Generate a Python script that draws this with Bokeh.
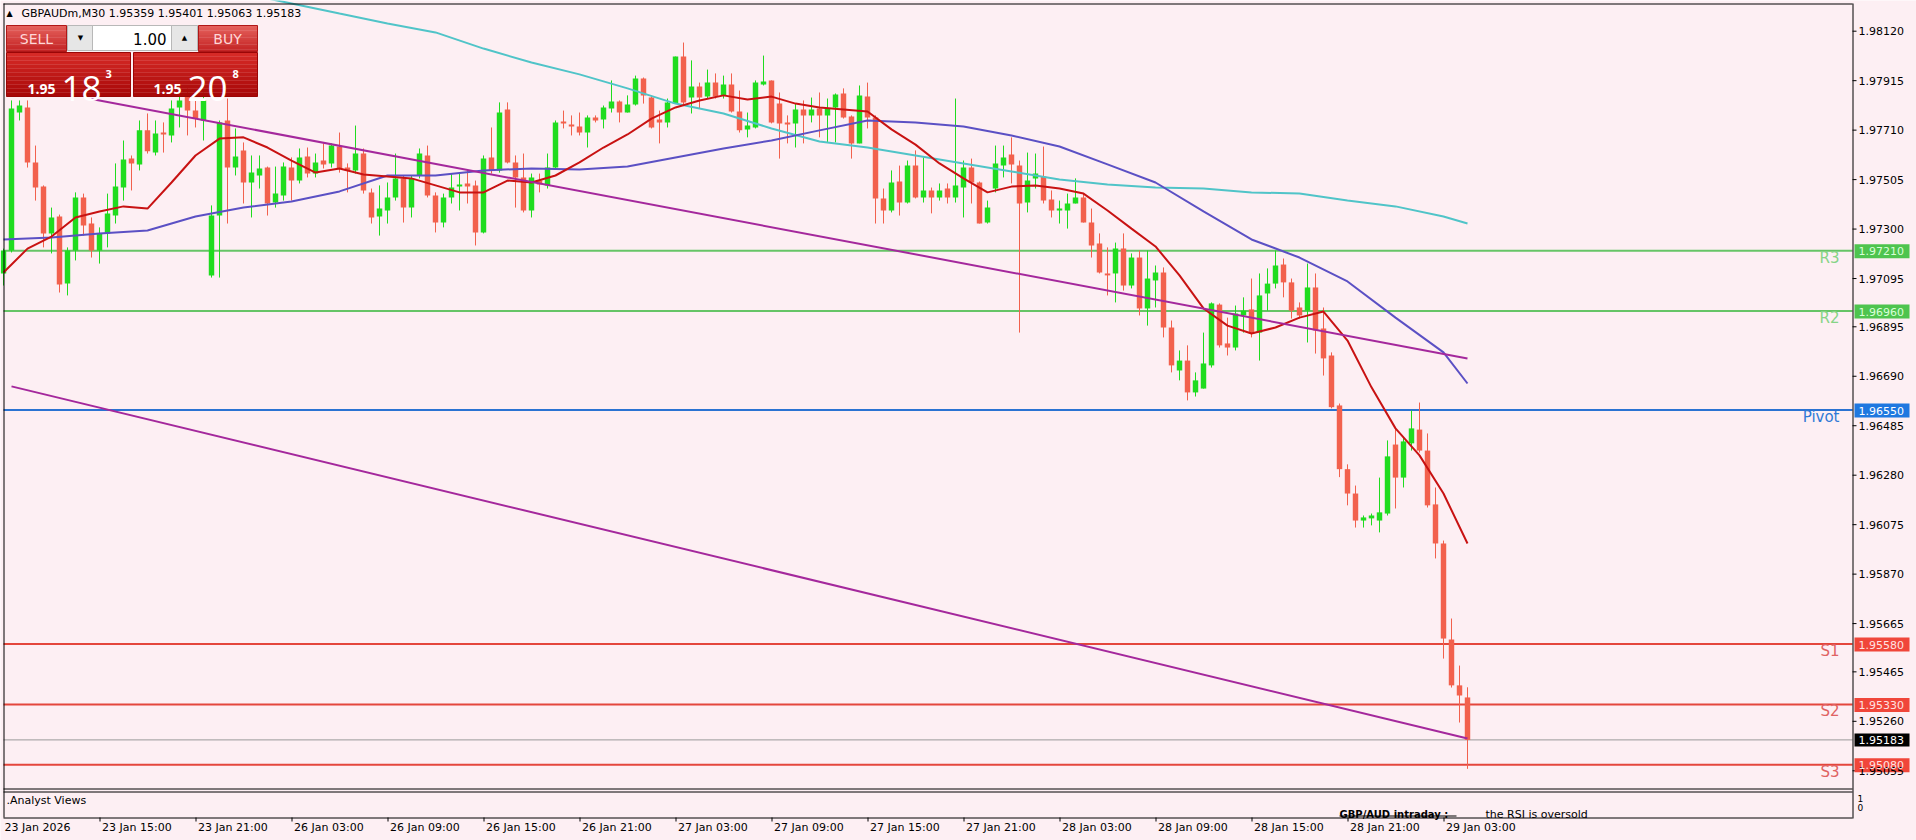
from bokeh.plotting import figure
from bokeh.models import Range1d, Label
from bokeh.embed import file_html
from bokeh.resources import INLINE

# ---------------- data ----------------
symbol_title = "GBPAUDm,M30"
header_ohlc = ["1.95359", "1.95401", "1.95063", "1.95183"]

opens = [
    1.97116, 1.97211, 1.97783, 1.97804, 1.97576, 1.97476, 1.97282, 1.97352, 1.97074, 1.97211,
    1.97431, 1.97323, 1.97211, 1.97282, 1.97356, 1.97472, 1.97592, 1.97568, 1.97709, 1.97617,
    1.97700, 1.97688, 1.97804, 1.97854, 1.97791, 1.97750, 1.97108, 1.97356, 1.97750, 1.97555,
    1.97626, 1.97493, 1.97522, 1.97555, 1.97410, 1.97439, 1.97555, 1.97501, 1.97601, 1.97530,
    1.97584, 1.97572, 1.97642, 1.97555, 1.97543, 1.97613, 1.97452, 1.97352, 1.97377, 1.97431,
    1.97510, 1.97389, 1.97522, 1.97605, 1.97439, 1.97327, 1.97431, 1.97476, 1.97489, 1.97481,
    1.97286, 1.97597, 1.97543, 1.97796, 1.97576, 1.97514, 1.97377, 1.97501, 1.97481, 1.97555,
    1.97746, 1.97733, 1.97725, 1.97700, 1.97762, 1.97754, 1.97800, 1.97829, 1.97783, 1.97816,
    1.97924, 1.97845, 1.97754, 1.97742, 1.97820, 1.98015, 1.97845, 1.97891, 1.97849, 1.97907,
    1.97854, 1.97899, 1.97787, 1.97713, 1.97721, 1.97899, 1.97916, 1.97820, 1.97742, 1.97738,
    1.97796, 1.97771, 1.97800, 1.97771, 1.97804, 1.97862, 1.97767, 1.97655, 1.97849, 1.97762,
    1.97427, 1.97377, 1.97497, 1.97410, 1.97563, 1.97431, 1.97460, 1.97431, 1.97468, 1.97431,
    1.97472, 1.97555, 1.97493, 1.97327, 1.97468, 1.97563, 1.97609, 1.97563, 1.97410, 1.97510,
    1.97518, 1.97423, 1.97377, 1.97377, 1.97406, 1.97431, 1.97327, 1.97240, 1.97116, 1.97116,
    1.97219, 1.97066, 1.97182, 1.96971, 1.97087, 1.97120, 1.96892, 1.96714, 1.96755, 1.96623,
    1.96639, 1.96735, 1.96987, 1.96826, 1.96809, 1.96942, 1.96967, 1.96871, 1.97033, 1.97074,
    1.97153, 1.97079, 1.96975, 1.96962, 1.97058, 1.96888, 1.96776, 1.96569, 1.96305, 1.96204,
    1.96092, 1.96101, 1.96092, 1.96121, 1.96407, 1.96270, 1.96412, 1.96469, 1.96382, 1.96159,
    1.95997, 1.95599, 1.95409, 1.95359,
]
highs = [
    1.97219, 1.97833, 1.97833, 1.97833, 1.97646, 1.97481, 1.97389, 1.97360, 1.97224, 1.97452,
    1.97447, 1.97348, 1.97307, 1.97447, 1.97572, 1.97667, 1.97605, 1.97750, 1.97779, 1.97750,
    1.97742, 1.97833, 1.97862, 1.97883, 1.97833, 1.97866, 1.97398, 1.97750, 1.97841, 1.97717,
    1.97659, 1.97605, 1.97605, 1.97559, 1.97559, 1.97576, 1.97597, 1.97634, 1.97638, 1.97613,
    1.97655, 1.97655, 1.97700, 1.97572, 1.97729, 1.97634, 1.97468, 1.97481, 1.97493, 1.97613,
    1.97522, 1.97522, 1.97634, 1.97646, 1.97452, 1.97447, 1.97530, 1.97534, 1.97543, 1.97501,
    1.97605, 1.97721, 1.97825, 1.97825, 1.97605, 1.97613, 1.97530, 1.97530, 1.97613, 1.97750,
    1.97791, 1.97771, 1.97783, 1.97771, 1.97771, 1.97812, 1.97916, 1.97833, 1.97854, 1.97936,
    1.97928, 1.97854, 1.97791, 1.97841, 1.98015, 1.98073, 1.97999, 1.97907, 1.97961, 1.97945,
    1.97936, 1.97945, 1.97874, 1.97783, 1.97916, 1.98019, 1.97916, 1.97866, 1.97771, 1.97820,
    1.97833, 1.97845, 1.97866, 1.97841, 1.97862, 1.97883, 1.97771, 1.97895, 1.97907, 1.97771,
    1.97468, 1.97543, 1.97563, 1.97584, 1.97626, 1.97597, 1.97472, 1.97489, 1.97489, 1.97841,
    1.97584, 1.97592, 1.97497, 1.97418, 1.97646, 1.97646, 1.97680, 1.97584, 1.97617, 1.97613,
    1.97642, 1.97460, 1.97418, 1.97447, 1.97510, 1.97447, 1.97385, 1.97282, 1.97224, 1.97244,
    1.97282, 1.97199, 1.97211, 1.97211, 1.97149, 1.97141, 1.96921, 1.96797, 1.96818, 1.96706,
    1.96871, 1.96996, 1.96992, 1.96933, 1.96983, 1.97017, 1.97095, 1.97116, 1.97137, 1.97211,
    1.97178, 1.97095, 1.96996, 1.97157, 1.97116, 1.96975, 1.96789, 1.96577, 1.96325, 1.96237,
    1.96113, 1.96121, 1.96270, 1.96424, 1.96474, 1.96436, 1.96548, 1.96581, 1.96453, 1.96229,
    1.96009, 1.95686, 1.95491, 1.95401,
]
lows = [
    1.97066, 1.97203, 1.97750, 1.97555, 1.97418, 1.97224, 1.97199, 1.97037, 1.97025, 1.97170,
    1.97273, 1.97182, 1.97157, 1.97224, 1.97323, 1.97418, 1.97460, 1.97543, 1.97613, 1.97605,
    1.97617, 1.97659, 1.97721, 1.97688, 1.97721, 1.97667, 1.97099, 1.97099, 1.97323, 1.97522,
    1.97406, 1.97348, 1.97468, 1.97356, 1.97389, 1.97418, 1.97418, 1.97489, 1.97514, 1.97514,
    1.97551, 1.97555, 1.97534, 1.97452, 1.97530, 1.97447, 1.97323, 1.97273, 1.97323, 1.97418,
    1.97327, 1.97348, 1.97510, 1.97431, 1.97286, 1.97307, 1.97406, 1.97377, 1.97406, 1.97232,
    1.97282, 1.97530, 1.97534, 1.97572, 1.97389, 1.97369, 1.97348, 1.97452, 1.97468, 1.97551,
    1.97717, 1.97688, 1.97688, 1.97638, 1.97742, 1.97717, 1.97783, 1.97742, 1.97783, 1.97812,
    1.97820, 1.97717, 1.97655, 1.97721, 1.97820, 1.97812, 1.97779, 1.97800, 1.97841, 1.97841,
    1.97841, 1.97783, 1.97700, 1.97680, 1.97717, 1.97895, 1.97738, 1.97592, 1.97655, 1.97638,
    1.97655, 1.97742, 1.97680, 1.97659, 1.97659, 1.97758, 1.97592, 1.97655, 1.97717, 1.97323,
    1.97323, 1.97369, 1.97356, 1.97406, 1.97427, 1.97410, 1.97365, 1.97418, 1.97406, 1.97410,
    1.97348, 1.97406, 1.97323, 1.97323, 1.97452, 1.97514, 1.97489, 1.96871, 1.97369, 1.97468,
    1.97406, 1.97348, 1.97323, 1.97302, 1.97406, 1.97327, 1.97182, 1.97116, 1.97025, 1.96996,
    1.97045, 1.97054, 1.96942, 1.96900, 1.96975, 1.96851, 1.96706, 1.96673, 1.96590, 1.96606,
    1.96639, 1.96726, 1.96809, 1.96776, 1.96797, 1.96871, 1.96851, 1.96755, 1.96962, 1.97054,
    1.97017, 1.96929, 1.96929, 1.96830, 1.96784, 1.96693, 1.96557, 1.96272, 1.96155, 1.96063,
    1.96063, 1.96072, 1.96043, 1.96113, 1.96142, 1.96229, 1.96382, 1.96374, 1.96146, 1.95935,
    1.95520, 1.95400, 1.95255, 1.95063,
]
closes = [
    1.97211, 1.97800, 1.97812, 1.97576, 1.97472, 1.97282, 1.97348, 1.97070, 1.97211, 1.97431,
    1.97315, 1.97211, 1.97282, 1.97365, 1.97476, 1.97588, 1.97572, 1.97709, 1.97622, 1.97696,
    1.97692, 1.97800, 1.97833, 1.97791, 1.97758, 1.97833, 1.97356, 1.97742, 1.97555, 1.97601,
    1.97493, 1.97534, 1.97551, 1.97406, 1.97447, 1.97559, 1.97501, 1.97597, 1.97530, 1.97576,
    1.97568, 1.97646, 1.97551, 1.97543, 1.97613, 1.97460, 1.97348, 1.97385, 1.97431, 1.97510,
    1.97389, 1.97510, 1.97613, 1.97439, 1.97327, 1.97431, 1.97472, 1.97485, 1.97476, 1.97286,
    1.97592, 1.97543, 1.97783, 1.97576, 1.97514, 1.97377, 1.97514, 1.97485, 1.97555, 1.97742,
    1.97738, 1.97725, 1.97700, 1.97762, 1.97750, 1.97804, 1.97829, 1.97783, 1.97816, 1.97924,
    1.97854, 1.97721, 1.97742, 1.97825, 1.98015, 1.97825, 1.97891, 1.97845, 1.97907, 1.97849,
    1.97899, 1.97787, 1.97709, 1.97729, 1.97907, 1.97912, 1.97742, 1.97738, 1.97733, 1.97796,
    1.97771, 1.97796, 1.97771, 1.97800, 1.97858, 1.97762, 1.97655, 1.97854, 1.97762, 1.97427,
    1.97377, 1.97493, 1.97410, 1.97563, 1.97431, 1.97460, 1.97431, 1.97460, 1.97431, 1.97481,
    1.97555, 1.97493, 1.97323, 1.97389, 1.97572, 1.97597, 1.97568, 1.97406, 1.97501, 1.97530,
    1.97418, 1.97377, 1.97385, 1.97406, 1.97431, 1.97327, 1.97232, 1.97120, 1.97108, 1.97219,
    1.97066, 1.97182, 1.96971, 1.97095, 1.97120, 1.96892, 1.96735, 1.96755, 1.96623, 1.96673,
    1.96743, 1.96992, 1.96818, 1.96809, 1.96950, 1.96962, 1.96867, 1.97025, 1.97074, 1.97149,
    1.97079, 1.96962, 1.96942, 1.97058, 1.96880, 1.96764, 1.96562, 1.96305, 1.96204, 1.96092,
    1.96105, 1.96113, 1.96126, 1.96358, 1.96270, 1.96420, 1.96474, 1.96382, 1.96155, 1.95997,
    1.95603, 1.95409, 1.95367, 1.95183,
]

# moving averages (bar index, price)
red_ma_bars = list(range(0, 184, 3))
red_ma_vals = [
    1.97120, 1.97219, 1.97269, 1.97348, 1.97373, 1.97394, 1.97385, 1.97493, 1.97605, 1.97675,
    1.97680, 1.97638, 1.97584, 1.97534, 1.97551, 1.97526, 1.97518, 1.97510, 1.97481, 1.97452,
    1.97452, 1.97501, 1.97493, 1.97522, 1.97576, 1.97638, 1.97692, 1.97758, 1.97804, 1.97833,
    1.97854, 1.97837, 1.97849, 1.97820, 1.97804, 1.97796, 1.97787, 1.97713, 1.97650, 1.97572,
    1.97510, 1.97452, 1.97476, 1.97481, 1.97468, 1.97447, 1.97377, 1.97302, 1.97228, 1.97108,
    1.96971, 1.96900, 1.96867, 1.96892, 1.96933, 1.96958, 1.96838, 1.96644, 1.96474, 1.96362,
    1.96204, 1.95997,
]
blue_ma_bars = list(range(0, 181, 6)) + [183]
blue_ma_vals = [
    1.97257, 1.97265, 1.97282, 1.97294, 1.97352, 1.97389, 1.97414, 1.97456, 1.97522, 1.97522,
    1.97543, 1.97551, 1.97547, 1.97559, 1.97597, 1.97634, 1.97667, 1.97709, 1.97750, 1.97742,
    1.97725, 1.97688, 1.97642, 1.97568, 1.97493, 1.97373, 1.97257, 1.97182, 1.97083, 1.96933,
    1.96789, 1.96660,
]
cyan_ma_bars = list(range(30, 181, 6)) + [183]
cyan_ma_vals = [
    1.98276, 1.98235, 1.98193, 1.98152, 1.98115, 1.98048, 1.97990, 1.97941, 1.97883, 1.97820,
    1.97779, 1.97717, 1.97663, 1.97638, 1.97605, 1.97572, 1.97539, 1.97505, 1.97485, 1.97472,
    1.97468, 1.97452, 1.97447, 1.97418, 1.97394, 1.97352, 1.97323,
]

# trend lines (end points)
upper_trend_bars = [11, 183]
upper_trend_vals = [1.97839, 1.96764]
lower_trend_bars = [1, 183]
lower_trend_vals = [1.96648, 1.95189]

# pivot levels
level_names = ["R3", "R2", "Pivot", "S1", "S2", "S3"]
level_values = [1.97210, 1.96960, 1.96550, 1.95580, 1.95330, 1.95080]
bid_price = 1.95183

# axes
price_ticks = [1.98120, 1.97915, 1.97710, 1.97505, 1.97300, 1.97095, 1.96895, 1.96690,
               1.96485, 1.96280, 1.96075, 1.95870, 1.95665, 1.95465, 1.95260, 1.95055]
time_tick_bars = [12, 24, 36, 48, 60, 72, 84, 96, 108, 120, 132, 144, 156, 168, 180]
time_tick_labels = ["23 Jan 15:00", "23 Jan 21:00", "26 Jan 03:00", "26 Jan 09:00",
                    "26 Jan 15:00", "26 Jan 21:00", "27 Jan 03:00", "27 Jan 09:00",
                    "27 Jan 15:00", "27 Jan 21:00", "28 Jan 03:00", "28 Jan 09:00",
                    "28 Jan 15:00", "28 Jan 21:00", "29 Jan 03:00"]
first_time_label = "23 Jan 2026"

# one-click trading panel
sell_quote = ["1.95", "18", "3"]
buy_quote = ["1.95", "20", "8"]
lot_size = "1.00"
analyst_title = "GBP/AUD intraday :"
analyst_text = "the RSI is oversold"

# ---------------- styling / geometry ----------------
BG = "#fdeff3"
BULL = "#1fdc1f"
BEAR = "#f2614d"
LEVEL_COLORS = {"R3": "#66c466", "R2": "#66c466", "Pivot": "#2a73d2",
                "S1": "#e4463c", "S2": "#e4463c", "S3": "#e4463c"}
LEVEL_TEXT = {"R3": "#86d486", "R2": "#86d486", "Pivot": "#2f7ad6",
              "S1": "#e06262", "S2": "#e06262", "S3": "#e06262"}
LEVEL_BOX = {"R3": "#4ec44e", "R2": "#4ec44e", "Pivot": "#1f78e0",
             "S1": "#f0463a", "S2": "#f0463a", "S3": "#f0463a"}
LEVEL_BOX_TEXT = {"R3": "#d8ffd8", "R2": "#d8ffd8", "Pivot": "#ffffff",
                  "S1": "#ffe2e2", "S2": "#ffe2e2", "S3": "#ffe2e2"}

W, H = 1916, 840
PX_PER_UNIT = 24130.0
CHART_L, CHART_T, CHART_R, CHART_B = 3, 3, 1852, 817


def bx(px):
    """canvas pixel x -> bar index"""
    return (px - 3.0) / 8.0


def py(px):
    """canvas pixel y -> price"""
    return 1.98120 - (px - 30.7) / PX_PER_UNIT


def price_to_px(v):
    return 30.7 + (1.98120 - v) * PX_PER_UNIT


p = figure(width=W, height=H,
           x_range=Range1d(bx(0), bx(W)), y_range=Range1d(py(H), py(0)),
           output_backend="svg", toolbar_location=None, title_location=None,
           x_axis_location=None, y_axis_location=None,
           background_fill_color=BG, border_fill_color=BG, min_border=0)
p.outline_line_color = None
p.xgrid.visible = False
p.ygrid.visible = False

X_LEFT, X_RIGHT = bx(CHART_L), bx(CHART_R)

# ---- pivot level lines + bid line
for name, val in zip(level_names, level_values):
    p.segment(x0=X_LEFT, y0=val, x1=X_RIGHT, y1=val, line_color=LEVEL_COLORS[name], line_width=2)
p.segment(x0=X_LEFT, y0=bid_price, x1=X_RIGHT, y1=bid_price, line_color="#9a9a9a", line_width=1)

# ---- candles
MIN_BODY = 1.2 / PX_PER_UNIT
for bull in (True, False):
    xs, tops, bots, his, los = [], [], [], [], []
    for i, (o, h, l, c) in enumerate(zip(opens, highs, lows, closes)):
        if (c >= o) != bull:
            continue
        top, bot = max(o, c), min(o, c)
        if top - bot < MIN_BODY:
            mid = (top + bot) / 2
            top, bot = mid + MIN_BODY / 2, mid - MIN_BODY / 2
        xs.append(i); tops.append(top); bots.append(bot); his.append(h); los.append(l)
    col = BULL if bull else BEAR
    p.segment(x0=xs, y0=los, x1=xs, y1=his, line_color=col, line_width=1)
    p.vbar(x=xs, top=tops, bottom=bots, width=0.68, fill_color=col, line_color=None)

# ---- moving averages and trend lines
p.line(cyan_ma_bars, cyan_ma_vals, line_color="#50c4c8", line_width=2)
p.line(blue_ma_bars, blue_ma_vals, line_color="#5b50c4", line_width=2)
p.line(red_ma_bars, red_ma_vals, line_color="#c81212", line_width=2)
p.line(upper_trend_bars, upper_trend_vals, line_color="#a4289c", line_width=2)
p.line(lower_trend_bars, lower_trend_vals, line_color="#a4289c", line_width=2)


def hline(y, x0, x1, color="black", width=1):
    p.segment(x0=bx(x0), y0=py(y), x1=bx(x1), y1=py(y), line_color=color, line_width=width)


def vline(x, y0, y1, color="black", width=1):
    p.segment(x0=bx(x), y0=py(y0), x1=bx(x), y1=py(y1), line_color=color, line_width=width)


def lab(x, y, text, size, color, font="DejaVu Sans", align="left", baseline="middle",
        style="normal", **kw):
    p.add_layout(Label(x=bx(x), y=py(y), text=text, text_font=font,
                       text_font_size=f"{size}px", text_color=color, text_align=align,
                       text_baseline=baseline, text_font_style=style, **kw))


def box(x0, x1, y0, y1, fill, line=None):
    p.quad(left=bx(x0), right=bx(x1), top=py(y0), bottom=py(y1), fill_color=fill,
           line_color=line)


# ---- window borders (main window, separator, sub window)
hline(CHART_T + 0.5, CHART_L, CHART_R)
vline(CHART_L + 0.5, CHART_T, CHART_B)
vline(CHART_R + 0.5, CHART_T, CHART_B + 1)
hline(788.5, CHART_L, CHART_R)
hline(791.5, CHART_L, CHART_R)
hline(CHART_B + 0.5, CHART_L, CHART_R)

# ---- price scale (right)
for t in price_ticks:
    ty = price_to_px(t)
    hline(ty, CHART_R, CHART_R + 4)
    lab(1858, ty, f"{t:.5f}", 11, "black")

# ---- level names inside chart and price boxes on the axis
for name, val in zip(level_names, level_values):
    ly = price_to_px(val)
    lab(1839, ly - 2, name, 15, LEVEL_TEXT[name], align="right", baseline="top")
    box(1854, 1909, ly - 6.5, ly + 7.5, LEVEL_BOX[name])
    lab(1858, ly + 0.5, f"{val:.5f}", 11, LEVEL_BOX_TEXT[name])
by = price_to_px(bid_price)
box(1854, 1909, by - 6.5, by + 6.5, "black")
lab(1858, by, f"{bid_price:.5f}", 11, "white")

# ---- time scale (bottom), MT4 style: label left aligned at tick
for b, t in zip(time_tick_bars, time_tick_labels):
    tx = 3 + 8 * b + 0.5
    vline(tx, CHART_B, CHART_B + 4)
    lab(tx + 2, 827, t, 11, "black")
lab(4, 827, first_time_label, 11, "black")

# ---- sub window
lab(6, 800, ".Analyst Views", 11, "black")
lab(1857, 798, "1", 9, "black")
lab(1857, 807, "0", 9, "black")
lab(1339, 814, analyst_title, 10, "black", style="bold", baseline="alphabetic")
hline(815.5, 1339, 1456)
lab(1485, 814, analyst_text, 11, "black", baseline="alphabetic")

# ---- header
lab(6, 12.5, "\u25b2", 8, "black")
lab(21, 12.5, symbol_title + "  " + " ".join(header_ohlc), 11, "black")


# ---- one click trading panel
def hexrgb(h):
    return tuple(int(h[k:k + 2], 16) for k in (1, 3, 5))


def mix(c1, c2, t):
    a, b = hexrgb(c1), hexrgb(c2)
    return "#%02x%02x%02x" % tuple(int(round(a[k] + (b[k] - a[k]) * t)) for k in range(3))


def grad_box(x0, x1, y0, y1, ctop, cbot, n=11, line=None):
    h = (y1 - y0) / n
    for k in range(n):
        p.quad(left=bx(x0), right=bx(x1), top=py(y0 + k * h), bottom=py(y0 + (k + 1) * h + 0.3),
               fill_color=mix(ctop, cbot, k / (n - 1)), line_color=None)
    if line:
        p.quad(left=bx(x0), right=bx(x1), top=py(y0), bottom=py(y1),
               fill_color=None, line_color=line, line_width=1)


grad_box(6, 66, 25, 51, "#e4605c", "#c42424", line="#b01818")
grad_box(198, 257, 25, 51, "#e4605c", "#c42424", line="#b01818")
box(67, 197, 25, 50, "white", "#b8b8b8")
box(67, 92, 25, 50, "#e6e6e6", "#b8b8b8")
box(171, 197, 25, 50, "#e6e6e6", "#b8b8b8")
grad_box(6, 130, 52, 96, "#d62a26", "#a80808", line="#9a0606")
grad_box(133, 257, 52, 96, "#d62a26", "#a80808", line="#9a0606")

lab(36, 38, "SELL", 14, "#ffd8d8", align="center")
lab(227, 38, "BUY", 14, "#ffd8d8", align="center")
lab(80, 37, "\u25bc", 7, "black", align="center")
lab(184, 37, "\u25b2", 7, "black", align="center")
lab(166, 38, lot_size, 15, "black", align="right")

lab(27, 88, sell_quote[0], 14, "white", font="Open Sans", style="bold", baseline="alphabetic")
lab(61, 88, sell_quote[1], 35, "white", font="Open Sans", baseline="alphabetic")
lab(105, 73, sell_quote[2], 11, "white", font="Open Sans", style="bold", baseline="alphabetic")
lab(153, 88, buy_quote[0], 14, "white", font="Open Sans", style="bold", baseline="alphabetic")
lab(187, 88, buy_quote[1], 35, "white", font="Open Sans", baseline="alphabetic")
lab(232, 73, buy_quote[2], 11, "white", font="Open Sans", style="bold", baseline="alphabetic")

open("out.html", "w").write(file_html(p, INLINE))
